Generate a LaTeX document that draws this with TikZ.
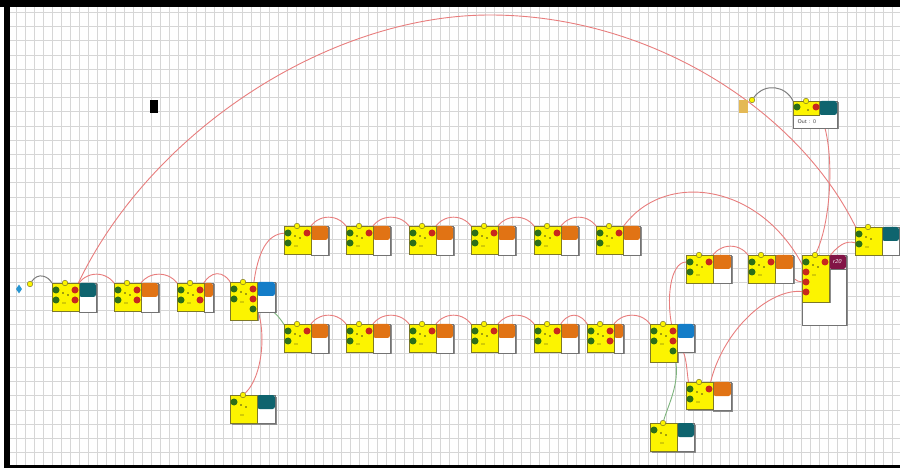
\documentclass[tikz,border=0pt]{standalone}
\usepackage{tikz}
\usetikzlibrary{shapes.geometric}
\definecolor{bodyyellow}{RGB}{252,244,0}
\definecolor{bodyedge}{RGB}{125,120,40}
\definecolor{portgreen}{RGB}{45,110,25}
\definecolor{portred}{RGB}{200,40,30}
\definecolor{taborange}{RGB}{225,115,20}
\definecolor{tabteal}{RGB}{15,100,110}
\definecolor{tabblue}{RGB}{20,125,200}
\definecolor{tabmaroon}{RGB}{130,20,70}
\definecolor{wirepink}{RGB}{232,125,125}
\definecolor{wiregreen}{RGB}{125,180,125}
\definecolor{wiregray}{RGB}{125,125,125}
\definecolor{gridgray}{RGB}{214,214,214}
\definecolor{startblue}{RGB}{40,150,210}
\definecolor{sourcetan}{RGB}{228,185,85}

\pgfdeclarelayer{gridlayer}
\pgfdeclarelayer{wirelayer}
\pgfsetlayers{gridlayer,wirelayer,main}

% one block: name, x, y, tab colour, tab width, body height, box height, inputs, outputs
\newcommand{\unitblock}[9]{%
  \fill[blockshadow] (#2+1.5,#3+1.5) rectangle (#2+28.5,#3+#6+1.5);
  \fill[blockshadow] (#2+27,#3+1.5) rectangle (#2+28.5+#5,#3+#7+1.5);
  \draw[boxwhite] (#2+27,#3) rectangle (#2+27+#5,#3+#7);
  \fill[#4,rounded corners=2.5] (#2+27,#3) rectangle (#2+27+#5,#3+14);
  \node[body,minimum height=#6] (#1) at (#2,#3) {};
  \fill[bodymark] (#2+11,#3+10) circle (0.9) (#2+16,#3+12) circle (0.9)
    (#2+11,#3+20) circle (0.7) (#2+13,#3+20) circle (0.7);
  \foreach \k in {1,...,#8}
    \node[inport] (#1-i\k) at (#2+4,#3+10*\k-3) {};
  \ifnum#9>0
    \foreach \k in {1,...,#9}
      \node[outport] (#1-o\k) at (#2+23,#3+10*\k-3) {};
  \fi
  \node[topport] (#1-t) at (#2+13,#3) {};
}

\begin{document}
\begin{tikzpicture}[x=1pt,y=-1pt,
    gridline/.style={gridgray,line width=0.5pt},
    blockshadow/.style={fill=black!45},
    boxwhite/.style={draw=black!55,fill=white,line width=0.6pt},
    body/.style={draw=bodyedge,fill=bodyyellow,line width=0.6pt,
                 anchor=north west,minimum width=27,inner sep=0pt},
    bodymark/.style={fill=bodyedge!60!black},
    inport/.style={circle,fill=portgreen,minimum size=7,inner sep=0pt},
    outport/.style={circle,fill=portred,minimum size=7,inner sep=0pt},
    topport/.style={circle,draw=bodyedge,fill=bodyyellow,line width=0.5pt,
                    minimum size=5.5,inner sep=0pt},
    wirered/.style={wirepink,line width=0.9pt},
    wiregrn/.style={wiregreen,line width=0.9pt},
    wiregry/.style={wiregray,line width=1pt}]
  \useasboundingbox (0,0) rectangle (900,470);
  \begin{pgfonlayer}{gridlayer}
    \fill[white] (0,0) rectangle (900,470);
    \foreach \gx in {16,25.03,...,899}
      \draw[gridline] (\gx,7) -- (\gx,465);
    \foreach \gy in {12.2,26.4,...,464}
      \draw[gridline] (10,\gy) -- (900,\gy);
  \end{pgfonlayer}

  % start of the chain
  \node[diamond,fill=startblue,minimum width=6,minimum height=9,inner sep=0pt]
    (startgem) at (19,289) {};
  \node[topport] (startdot) at (30,284) {};
  \node[fill=black,minimum width=8,minimum height=13,inner sep=0pt]
    (blackmark) at (154,106.5) {};

  % main row
  \unitblock{b1}{52}{283}{tabteal}{17}{28}{29}{2}{2}
  \unitblock{b2}{114}{283}{taborange}{17}{28}{29}{2}{2}
  \unitblock{b3}{177}{283}{taborange}{9}{28}{29}{2}{2}
  \unitblock{b4}{230}{282}{tabblue}{18}{38}{30}{2}{2}
  \node[inport] (b4-o3) at (253,309) {};

  % upper row
  \unitblock{u1}{284}{226}{taborange}{17}{28}{29}{2}{1}
  \unitblock{u2}{346}{226}{taborange}{17}{28}{29}{2}{1}
  \unitblock{u3}{409}{226}{taborange}{17}{28}{29}{2}{1}
  \unitblock{u4}{471}{226}{taborange}{17}{28}{29}{2}{1}
  \unitblock{u5}{534}{226}{taborange}{17}{28}{29}{2}{1}
  \unitblock{u6}{596}{226}{taborange}{17}{28}{29}{2}{1}

  % lower row
  \unitblock{l1}{284}{324}{taborange}{17}{28}{29}{2}{1}
  \unitblock{l2}{346}{324}{taborange}{17}{28}{29}{2}{1}
  \unitblock{l3}{409}{324}{taborange}{17}{28}{29}{2}{1}
  \unitblock{l4}{471}{324}{taborange}{17}{28}{29}{2}{1}
  \unitblock{l5}{534}{324}{taborange}{17}{28}{29}{2}{1}
  \unitblock{l6}{587}{324}{taborange}{9}{28}{29}{2}{2}
  \unitblock{l7}{650}{324}{tabblue}{17}{38}{28}{2}{2}
  \node[inport] (l7-o3) at (673,351) {};

  % right side
  \unitblock{r1}{686}{255}{taborange}{18}{28}{28}{2}{1}
  \unitblock{r2}{748}{255}{taborange}{18}{28}{28}{2}{1}
  \fill[blockshadow] (803.5,256.5) rectangle (847.5,326.5);
  \draw[boxwhite] (802,255) rectangle (846,325);
  \unitblock{big}{802}{255}{tabmaroon}{17}{47}{14}{1}{1}
  \foreach \k in {1,2,3}
    \node[outport] (big-r\k) at (806,262+10*\k) {};
  \node[text=white,font=\sffamily\itshape\fontsize{6}{6}\selectfont]
    (biglabel) at (837,261.5) {r20};
  \unitblock{r3}{855}{227}{tabteal}{17}{28}{28}{2}{0}

  % bottom blocks
  \unitblock{d1}{230}{395}{tabteal}{18}{28}{28}{1}{0}
  \unitblock{d2}{686}{382}{taborange}{18}{27}{28}{2}{1}
  \unitblock{d3}{650}{423}{tabteal}{17}{28}{28}{1}{0}

  % output block at the top right
  \node[fill=sourcetan,minimum width=9,minimum height=13,inner sep=0pt]
    (tansrc) at (743.5,106.5) {};
  \node[topport] (tandot) at (752,100) {};
  \fill[blockshadow] (794.5,102.5) rectangle (838.5,129.5);
  \draw[boxwhite] (793,101) rectangle (837,128);
  \fill[tabteal,rounded corners=2.5] (819,101) rectangle (837,115);
  \node[body,minimum width=26,minimum height=14] (tout) at (793,101) {};
  \node[inport] (tout-i1) at (797,107) {};
  \node[outport] (tout-o1) at (816,107) {};
  \fill[bodymark] (808,110) circle (0.9);
  \node[topport] (tout-t) at (806,101) {};
  \node[anchor=west,text=black!75,font=\sffamily\fontsize{5.5}{6}\selectfont]
    (outlabel) at (794,121.5) {Out : 0};

  \begin{pgfonlayer}{wirelayer}
    \draw[wiregry] (startdot) .. controls (38,272) and (48,276) .. (b1.north west);
    \draw[wiregry] (tandot) .. controls (765,82) and (786,86) .. (tout.north west);
    % humps along the rows
    \draw[wirered] (b1-o1) .. controls +(10,-20) and +(-10,-20) .. (b2-i1);
    \draw[wirered] (b2-o1) .. controls +(10,-20) and +(-10,-20) .. (b3-i1);
    \draw[wirered] (b3-o1) .. controls +(10,-20) and +(-10,-20) .. (b4-i1);
    \draw[wirered] (u1-o1) .. controls +(10,-20) and +(-10,-20) .. (u2-i1);
    \draw[wirered] (u2-o1) .. controls +(10,-20) and +(-10,-20) .. (u3-i1);
    \draw[wirered] (u3-o1) .. controls +(10,-20) and +(-10,-20) .. (u4-i1);
    \draw[wirered] (u4-o1) .. controls +(10,-20) and +(-10,-20) .. (u5-i1);
    \draw[wirered] (u5-o1) .. controls +(10,-20) and +(-10,-20) .. (u6-i1);
    \draw[wirered] (l1-o1) .. controls +(10,-20) and +(-10,-20) .. (l2-i1);
    \draw[wirered] (l2-o1) .. controls +(10,-20) and +(-10,-20) .. (l3-i1);
    \draw[wirered] (l3-o1) .. controls +(10,-20) and +(-10,-20) .. (l4-i1);
    \draw[wirered] (l4-o1) .. controls +(10,-20) and +(-10,-20) .. (l5-i1);
    \draw[wirered] (l5-o1) .. controls +(10,-20) and +(-10,-20) .. (l6-i1);
    \draw[wirered] (l6-o1) .. controls +(10,-20) and +(-10,-20) .. (l7-i1);
    \draw[wirered] (r1-o1) .. controls +(10,-20) and +(-10,-20) .. (r2-i1);
    % long links
    \draw[wirered] (b1-o1) .. controls (150,130) and (330,15) .. (490,15)
      .. controls (650,15) and (800,110) .. (r3-i1);
    \draw[wirered] (b4-o1) .. controls (258,250) and (268,234) .. (u1-i1);
    \draw[wirered] (b4-o2) .. controls (268,330) and (262,378) .. (d1-t);
    \draw[wiregrn] (b4-o3) .. controls (272,305) and (280,318) .. (l1-i1);
    \draw[wirered] (u6-o1) .. controls (660,170) and (760,180) .. (big-r1);
    \draw[wirered] (tout-o1) .. controls (836,140) and (832,220) .. (big-t);
    \draw[wirered] (l7-o1) .. controls (666,300) and (670,262) .. (r1-i1);
    \draw[wirered] (l7-o2) .. controls (688,350) and (686,372) .. (d2-i1);
    \draw[wiregrn] (l7-o3) .. controls (682,380) and (668,405) .. (d3-t);
    \draw[wirered] (d2-o1) .. controls (722,330) and (770,288) .. (big-r3);
    \draw[wirered] (r2-o1) .. controls (785,262) and (790,282) .. (big-r2);
    \draw[wirered] (big-o1) .. controls (838,245) and (846,240) .. (r3-i2);
  \end{pgfonlayer}

  % frame of the canvas
  \fill[black] (0,0) rectangle (900,7);
  \fill[black] (4,0) rectangle (10,468);
  \fill[black] (4,465) rectangle (900,468);
\end{tikzpicture}
\end{document}
